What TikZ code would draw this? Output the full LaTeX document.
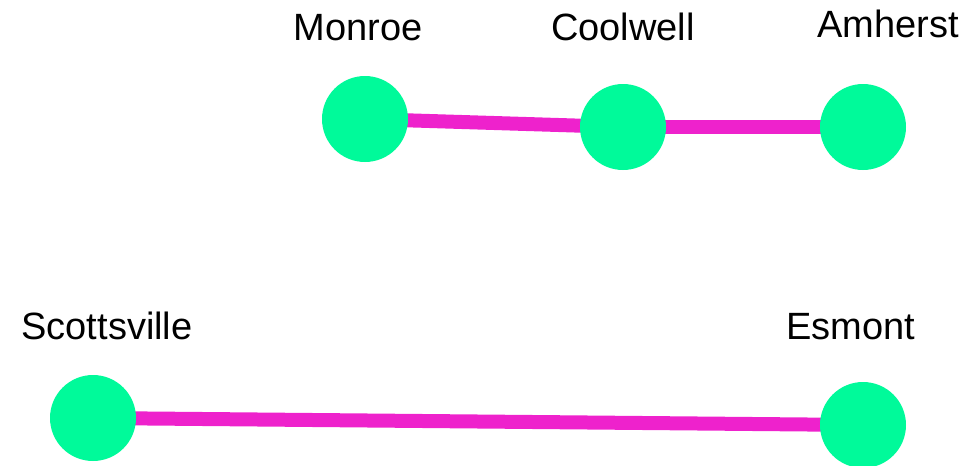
\documentclass[tikz,border=0pt]{standalone}
\usepackage{fontspec}
\setmainfont{Liberation Sans}
\usetikzlibrary{backgrounds}
\begin{document}
\begin{tikzpicture}[x=1pt,y=-1pt,
  town/.style={circle,fill=nodegreen,draw=none,minimum size=86pt,inner sep=0pt},
  lbl/.style={anchor=base,font=\fontsize{38}{44}\selectfont,inner sep=0pt},
  road/.style={draw=roadpink,line width=14pt}]
\definecolor{nodegreen}{HTML}{00FA9A}
\definecolor{roadpink}{HTML}{EE22CC}
\useasboundingbox (0,0) rectangle (975,466);
\node[town] (monroe) at (365,119) {};
\node[town] (coolwell) at (623,127) {};
\node[town] (amherst) at (863,127) {};
\node[town] (scott) at (93,418) {};
\node[town] (esmont) at (863,425) {};
\node[lbl] (lmonroe) at (358,40) {Monroe};
\node[lbl] (lcool) at (623,40) {Coolwell};
\node[lbl] (lamh) at (888,37) {Amherst};
\node[lbl] (lscott) at (107,339) {Scottsville};
\node[lbl] (lesm) at (851,339) {Esmont};
\begin{pgfonlayer}{background}
\draw[road] (monroe.center) -- (coolwell.center);
\draw[road] (coolwell.center) -- (amherst.center);
\draw[road] (scott.center) -- (esmont.center);
\end{pgfonlayer}
\end{tikzpicture}
\end{document}
